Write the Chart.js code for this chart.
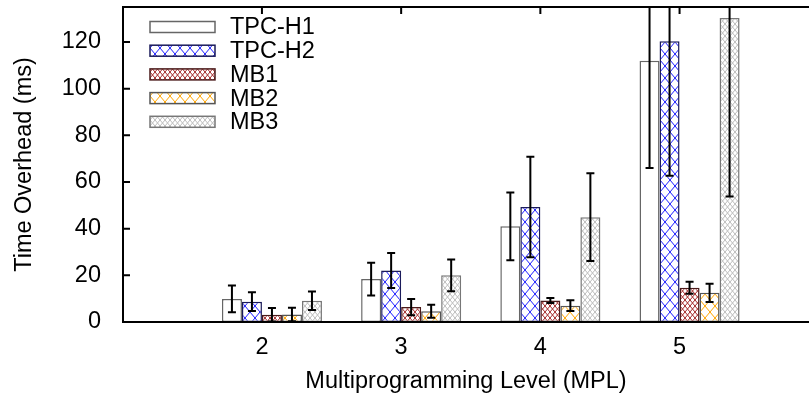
<!DOCTYPE html>
<html>
<head>
<meta charset="utf-8">
<script src="https://cdn.jsdelivr.net/npm/chart.js@4.4.1/dist/chart.umd.min.js"></script>
<style>
  html, body { margin: 0; padding: 0; background: #fff; }
  #wrap { width: 809px; height: 397px; }
</style>
</head>
<body>
<div id="wrap"><canvas id="mplChart" width="809" height="397"></canvas></div>
<script>
// values (mean and +/- error, ms)
const mplLevels = [2, 3, 4, 5];
const seriesNames = ['TPC-H1', 'TPC-H2', 'MB1', 'MB2', 'MB3'];
const tpch1Mean = [9.9, 18.4, 41, 112];
const tpch1Err = [5.7, 7, 14.5, 46];
const tpch2Mean = [8.7, 22.1, 49.3, 120.3];
const tpch2Err = [4, 7.5, 21.5, 57.6];
const mb1Mean = [3.1, 6.4, 9.2, 14.7];
const mb1Err = [2.9, 3.5, 1.1, 2.6];
const mb2Mean = [3.2, 4.6, 7, 12.5];
const mb2Err = [2.9, 2.8, 2.3, 3.9];
const mb3Mean = [9.1, 20, 44.9, 130.3];
const mb3Err = [4, 6.8, 18.8, 76.5];
const yTicks = [0, 20, 40, 60, 80, 100, 120];

const FONT = '"Liberation Sans", Arial, sans-serif';
Chart.defaults.color = '#000';
Chart.defaults.font.family = FONT;
Chart.defaults.font.size = 23.5;

// crosshatch fills like gnuplot patterns
function hatch(color, w, h) {
	const c = document.createElement('canvas');
	c.width = w;
	c.height = h;
	const g = c.getContext('2d');
	g.fillStyle = '#fff';
	g.fillRect(0, 0, w, h);
	g.strokeStyle = color;
	g.lineWidth = 1;
	g.beginPath();
	g.moveTo(0, 0); g.lineTo(w, h);
	g.moveTo(w, 0); g.lineTo(0, h);
	g.stroke();
	return g.createPattern(c, 'repeat');
}

const fills = ['#ffffff', hatch('#1f1fff', 10, 12), hatch('#a52a2a', 5, 6), hatch('#ffa500', 10, 12), hatch('#bdbdbd', 5, 6)];
const borders = ['#666666', '#1a1a5a', '#4a1a1a', '#555555', '#777777'];
const means = [tpch1Mean, tpch2Mean, mb1Mean, mb2Mean, mb3Mean];
const errs = [tpch1Err, tpch2Err, mb1Err, mb2Err, mb3Err];

const datasets = seriesNames.map((name, i) => ({
	label: name,
	data: mplLevels.map((m, j) => ({x: m, y: means[i][j]})),
	errors: errs[i],
	backgroundColor: fills[i],
	borderColor: borders[i],
	borderWidth: 1.5,
	borderSkipped: false,
	barPercentage: 1,
	categoryPercentage: 0.7187
}));

const errorBars = {
	id: 'errorBars',
	afterDatasetsDraw(chart) {
		const {ctx, chartArea: a, scales: {y}} = chart;
		ctx.save();
		ctx.beginPath();
		ctx.rect(a.left, a.top, a.right - a.left, a.bottom - a.top);
		ctx.clip();
		ctx.strokeStyle = '#000';
		ctx.lineWidth = 2;
		chart.data.datasets.forEach((ds, i) => {
			chart.getDatasetMeta(i).data.forEach((bar, j) => {
				const v = ds.data[j].y, e = ds.errors[j];
				const top = y.getPixelForValue(v + e);
				const bot = y.getPixelForValue(Math.max(0, v - e));
				ctx.beginPath();
				ctx.moveTo(bar.x, top); ctx.lineTo(bar.x, bot);
				ctx.moveTo(bar.x - 4, top); ctx.lineTo(bar.x + 4, top);
				ctx.moveTo(bar.x - 4, bot); ctx.lineTo(bar.x + 4, bot);
				ctx.stroke();
			});
		});
		ctx.restore();
	}
};

// border on three sides plus inward tick marks
const frame = {
	id: 'frame',
	afterDatasetsDraw(chart) {
		const {ctx, chartArea: a, scales: {x, y}} = chart;
		ctx.save();
		ctx.strokeStyle = '#000';
		ctx.lineWidth = 2;
		ctx.beginPath();
		ctx.moveTo(a.right, a.top); ctx.lineTo(a.left, a.top);
		ctx.lineTo(a.left, a.bottom); ctx.lineTo(a.right, a.bottom);
		y.ticks.forEach(t => {
			const py = y.getPixelForValue(t.value);
			ctx.moveTo(a.left, py); ctx.lineTo(a.left + 7, py);
		});
		x.ticks.forEach(t => {
			const px = x.getPixelForValue(t.value) + x.options.ticks.labelOffset;
			ctx.moveTo(px, a.top); ctx.lineTo(px, a.top + 7);
		});
		ctx.stroke();
		ctx.restore();
	}
};

const boxLegend = {
	id: 'boxLegend',
	afterDraw(chart) {
		const {ctx, chartArea: a} = chart;
		ctx.save();
		ctx.font = '23.5px ' + FONT;
		ctx.textBaseline = 'middle';
		chart.data.datasets.forEach((ds, i) => {
			const cy = a.top + 20 + i * 23.7;
			const bx = a.left + 27;
			ctx.fillStyle = ds.backgroundColor;
			ctx.fillRect(bx, cy - 5.5, 65, 11);
			ctx.strokeStyle = ds.borderColor;
			ctx.lineWidth = 1.5;
			ctx.strokeRect(bx, cy - 5.5, 65, 11);
			ctx.fillStyle = '#000';
			ctx.fillText(ds.label, bx + 80, cy + 1);
		});
		ctx.restore();
	}
};

new Chart(document.getElementById('mplChart'), {
	type: 'bar',
	data: {datasets: datasets},
	options: {
		responsive: false,
		animation: false,
		devicePixelRatio: 1,
		layout: {padding: {top: 7, right: 0, left: 0, bottom: 0}},
		plugins: {legend: {display: false}, tooltip: {enabled: false}},
		scales: {
			x: {
				type: 'linear',
				offset: false,
				min: 0.93,
				max: 5.858,
				afterBuildTicks: s => { s.ticks = mplLevels.map(v => ({value: v})); },
				afterFit: s => { s.height = 75; s.paddingLeft = 0; s.paddingRight = 0; },
				grid: {display: false},
				border: {display: false},
				ticks: {labelOffset: -10, padding: 3.5, callback: v => String(v)},
				title: {display: true, text: 'Multiprogramming Level (MPL)', padding: {top: 0, bottom: 1}}
			},
			y: {
				min: 0,
				max: 135,
				afterBuildTicks: s => { s.ticks = yTicks.map(v => ({value: v})); },
				afterFit: s => { s.width = 123; s.paddingTop = 0; s.paddingBottom = 0; },
				grid: {display: false},
				border: {display: false},
				ticks: {padding: 14},
				title: {display: true, text: 'Time Overhead (ms)', padding: {top: 10, bottom: 0}}
			}
		}
	},
	plugins: [errorBars, frame, boxLegend]
});
</script>
</body>
</html>
